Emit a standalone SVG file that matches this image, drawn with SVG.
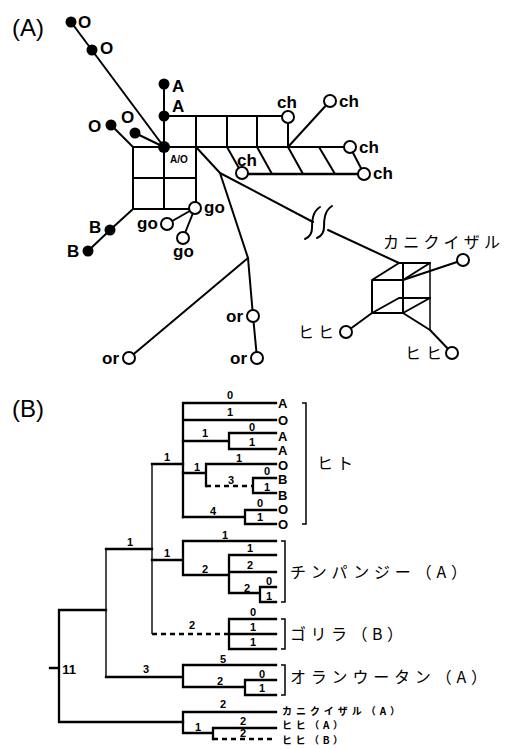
<svg xmlns="http://www.w3.org/2000/svg" width="510" height="749" viewBox="0 0 510 749">
<style>
.ln{stroke:#000;stroke-width:2;fill:none;stroke-linecap:round;stroke-linejoin:round}
.tr{stroke:#000;stroke-width:2.3;fill:none;stroke-linecap:square;stroke-linejoin:miter}
.th{stroke:#000;stroke-width:1.4;fill:none}
.ds{stroke-dasharray:5,4;stroke-linecap:butt}
.br{stroke:#000;stroke-width:1.5;fill:none}
.fd{fill:#000}
.od{fill:#fff;stroke:#000;stroke-width:2}
.lb{font-family:"Liberation Sans",Arial,sans-serif;font-weight:bold;font-size:17px;fill:#000}
.sm{font-family:"Liberation Sans",Arial,sans-serif;font-weight:bold;font-size:11px;fill:#000;text-anchor:middle}
.tp{font-family:"Liberation Sans",Arial,sans-serif;font-weight:bold;font-size:13px;fill:#000}
.pt{font-family:"Liberation Sans",Arial,sans-serif;font-size:24px;fill:#000}
.jp{font-family:"Noto Sans CJK JP","Noto Sans CJK SC",sans-serif;font-size:16px;fill:#000}
.js{font-family:"Noto Sans CJK JP","Noto Sans CJK SC",sans-serif;font-size:10px;font-weight:bold;fill:#000}
</style>

<!-- Panel A -->
<text class="pt" x="12" y="36">(A)</text>

<g id="connectors-A">
<path class="ln" d="M71,22 L164,147"/>
<path class="ln" d="M164,84 V209"/>
<path class="ln" d="M111,125 L133,147"/>
<path class="ln" d="M135,133 L164,147"/>
<path class="ln" d="M164,116 H288"/>
<path class="ln" d="M133,147 H350"/>
<path class="ln" d="M242,174 H364" style="stroke-width:2.4"/>
<path class="ln" d="M133,178 H196"/>
<path class="ln" d="M133,209 H195"/>
<path class="ln" d="M133,147 V209 M196,116 V209 M227,116 V147 M257,116 V147 M288,116 V147"/>
<path class="ln" d="M227,147 L240,170 M257,147 L272,174 M288,147 L303,174 M319,147 L335,174"/>
<path class="ln" d="M288,147 L330,101"/>
<path class="ln" d="M350,147 L364,174"/>
<path class="ln" d="M196,147 L220,173 L313,222"/>
<path class="ln" d="M328,230 L399,263"/>
<path class="ln" d="M320,207 C312,212 312,222 312,228 C312,234 310,237 305,239"/>
<path class="ln" d="M332,206 C324,211 324,221 324,227 C324,233 322,236 317,238"/>
<path class="ln" d="M220,173 L248,258 L253,316 L257,358"/>
<path class="ln" d="M248,258 L129,358"/>
<path class="ln" d="M133,209 L110,230 L88,251"/>
<path class="ln" d="M195,208 L167,224 M195,208 L183,238"/>
<!-- cube -->
<path class="ln" d="M399,263 H430 M399,263 L372,280 H403 M403,280 L430,263 M372,280 V313 H403 V263 M372,313 L399,298 H430 M403,313 L430,298"/>
<path class="ln" d="M430,263 V330" style="stroke-width:1.5"/>
<path class="ln" d="M403,280 L463,260"/>
<path class="ln" d="M372,313 L346,332"/>
<path class="ln" d="M403,313 L430,330 L452,353"/>
</g>

<g id="node-O1"><circle class="fd" cx="71" cy="22" r="5.5"/><text class="lb" x="78" y="28">O</text></g>
<g id="node-O2"><circle class="fd" cx="92" cy="50" r="5.5"/><text class="lb" x="100" y="54">O</text></g>
<g id="node-A1"><circle class="fd" cx="164" cy="84" r="5.5"/><text class="lb" x="172" y="92">A</text></g>
<g id="node-A2"><circle class="fd" cx="164" cy="116" r="5.5"/><text class="lb" x="172" y="112">A</text></g>
<g id="node-AO"><circle class="fd" cx="164" cy="147" r="6"/><text class="sm" x="179" y="163" style="font-size:10px">A/O</text></g>
<g id="node-O3"><circle class="fd" cx="111" cy="125" r="5.5"/><text class="lb" x="88" y="132">O</text></g>
<g id="node-O4"><circle class="fd" cx="135" cy="133" r="5.5"/><text class="lb" x="121" y="123">O</text></g>
<g id="node-B1"><circle class="fd" cx="110" cy="230" r="5.5"/><text class="lb" x="89" y="233">B</text></g>
<g id="node-B2"><circle class="fd" cx="88" cy="251" r="5.5"/><text class="lb" x="67" y="257">B</text></g>

<g id="node-ch1"><circle class="od" cx="288" cy="117" r="6"/><text class="lb" x="277" y="108">ch</text></g>
<g id="node-ch2"><circle class="od" cx="330" cy="101" r="6"/><text class="lb" x="339" y="107">ch</text></g>
<g id="node-ch3"><circle class="od" cx="350" cy="147" r="6"/><text class="lb" x="359" y="153">ch</text></g>
<g id="node-ch4"><circle class="od" cx="364" cy="174" r="6"/><text class="lb" x="373" y="179">ch</text></g>
<g id="node-ch5"><circle class="od" cx="242" cy="173" r="6"/><text class="lb" x="237" y="166">ch</text></g>

<g id="node-go1"><circle class="od" cx="195" cy="208" r="6"/><text class="lb" x="204" y="213">go</text></g>
<g id="node-go2"><circle class="od" cx="167" cy="224" r="6"/><text class="lb" x="137" y="229">go</text></g>
<g id="node-go3"><circle class="od" cx="183" cy="238" r="6"/><text class="lb" x="173" y="257">go</text></g>

<g id="node-or1"><circle class="od" cx="253" cy="316" r="6"/><text class="lb" x="226" y="322">or</text></g>
<g id="node-or2"><circle class="od" cx="257" cy="358" r="6"/><text class="lb" x="230" y="364">or</text></g>
<g id="node-or3"><circle class="od" cx="129" cy="358" r="6"/><text class="lb" x="102" y="364">or</text></g>

<g id="node-macaque"><circle class="od" cx="463" cy="260" r="6"/><text class="jp" x="383" y="248" textLength="117" lengthAdjust="spacing">カニクイザル</text></g>
<g id="node-baboon1"><circle class="od" cx="346" cy="332" r="6"/><text class="jp" x="298" y="338" textLength="36" lengthAdjust="spacing">ヒヒ</text></g>
<g id="node-baboon2"><circle class="od" cx="452" cy="353" r="6"/><text class="jp" x="405" y="359" textLength="37" lengthAdjust="spacing">ヒヒ</text></g>

<!-- Panel B -->
<text class="pt" x="12" y="417">(B)</text>

<g id="connectors-B">
<path class="tr" d="M183,403 V517 M183,403 H276 M183,420 H276"/>
<path class="tr" d="M183,441 H229 M229,433 V449 M229,433 H276 M229,449 H276"/>
<path class="tr" d="M183,473 H206 M206,464 V486 M206,464 H276"/>
<path class="tr ds" d="M206,486 H253"/>
<path class="tr" d="M253,478 V493 M253,478 H276 M253,493 H276"/>
<path class="tr" d="M183,517 H245 M245,510 V524 M245,510 H276 M245,524 H276"/>
<path class="tr" d="M152,464 H183"/>
<path class="th" d="M152,464 V634"/>
<path class="tr" d="M152,560 H183 M183,541 V575 M183,541 H276 M183,575 H229 M229,555 V593 M229,555 H276 M229,572 H276 M229,593 H260 M260,587 V602 M260,587 H276 M260,602 H276"/>
<path class="tr ds" d="M152,634 H229"/>
<path class="tr" d="M229,619 V649 M229,619 H276 M229,634 H276 M229,649 H276"/>
<path class="tr" d="M106,549 H152"/>
<path class="th" d="M106,549 V677"/>
<path class="tr" d="M106,677 H183 M183,665 V687 M183,665 H276 M183,687 H245 M245,680 V695 M245,680 H276 M245,695 H276"/>
<path class="tr" d="M59,610 V722 M59,610 H106 M50,668 H59 M59,722 H183"/>
<path class="tr" d="M183,712 V733 M183,712 H276 M183,733 H213 M213,728 V739 M213,728 H276"/>
<path class="tr ds" d="M213,739 H276"/>
<path class="br" d="M302,403 H306 V524 H302"/>
<path class="br" d="M281,541 H285 V602 H281"/>
<path class="br" d="M281,619 H285 V649 H281"/>
<path class="br" d="M281,665 H285 V695 H281"/>
</g>

<g id="branch-labels">
<text class="sm" x="230" y="399">0</text>
<text class="sm" x="230" y="416">1</text>
<text class="sm" x="205" y="437">1</text>
<text class="sm" x="252" y="431">0</text>
<text class="sm" x="252" y="446">1</text>
<text class="sm" x="167" y="461">1</text>
<text class="sm" x="197" y="471">1</text>
<text class="sm" x="239" y="462">1</text>
<text class="sm" x="231" y="484">3</text>
<text class="sm" x="267" y="475">0</text>
<text class="sm" x="267" y="491">1</text>
<text class="sm" x="213" y="515">4</text>
<text class="sm" x="260" y="507">0</text>
<text class="sm" x="260" y="521">1</text>
<text class="sm" x="130" y="546">1</text>
<text class="sm" x="167" y="557">1</text>
<text class="sm" x="225" y="539">1</text>
<text class="sm" x="250" y="552">1</text>
<text class="sm" x="250" y="569">2</text>
<text class="sm" x="205" y="573">2</text>
<text class="sm" x="247" y="592">2</text>
<text class="sm" x="269" y="585">0</text>
<text class="sm" x="269" y="600">1</text>
<text class="sm" x="192" y="629">2</text>
<text class="sm" x="253" y="616">0</text>
<text class="sm" x="253" y="631">1</text>
<text class="sm" x="253" y="646">1</text>
<text class="sm" x="146" y="673">3</text>
<text class="sm" x="223" y="663">5</text>
<text class="sm" x="220" y="685">2</text>
<text class="sm" x="262" y="678">0</text>
<text class="sm" x="262" y="692">1</text>
<text class="sm" x="69" y="674" style="font-size:13px">11</text>
<text class="sm" x="223" y="708">2</text>
<text class="sm" x="198" y="731">1</text>
<text class="sm" x="243" y="725">2</text>
<text class="sm" x="243" y="737">2</text>
</g>

<g id="tips">
<text class="tp" x="278" y="408">A</text>
<text class="tp" x="278" y="425">O</text>
<text class="tp" x="278" y="441">A</text>
<text class="tp" x="278" y="455">A</text>
<text class="tp" x="278" y="470">O</text>
<text class="tp" x="278" y="484">B</text>
<text class="tp" x="278" y="500">B</text>
<text class="tp" x="278" y="514">O</text>
<text class="tp" x="278" y="529">O</text>
</g>

<g id="clade-labels">
<text class="jp" x="317" y="469" textLength="36" lengthAdjust="spacing">ヒト</text>
<text class="jp" x="290" y="578" textLength="177" lengthAdjust="spacing">チンパンジー（A）</text>
<text class="jp" x="290" y="640" textLength="113" lengthAdjust="spacing">ゴリラ（B）</text>
<text class="jp" x="290" y="683" textLength="197" lengthAdjust="spacing">オランウータン（A）</text>
<text class="js" x="282" y="715" textLength="118" lengthAdjust="spacing">カニクイザル（A）</text>
<text class="js" x="282" y="729" textLength="61" lengthAdjust="spacing">ヒヒ（A）</text>
<text class="js" x="282" y="744" textLength="61" lengthAdjust="spacing">ヒヒ（B）</text>
</g>
</svg>
